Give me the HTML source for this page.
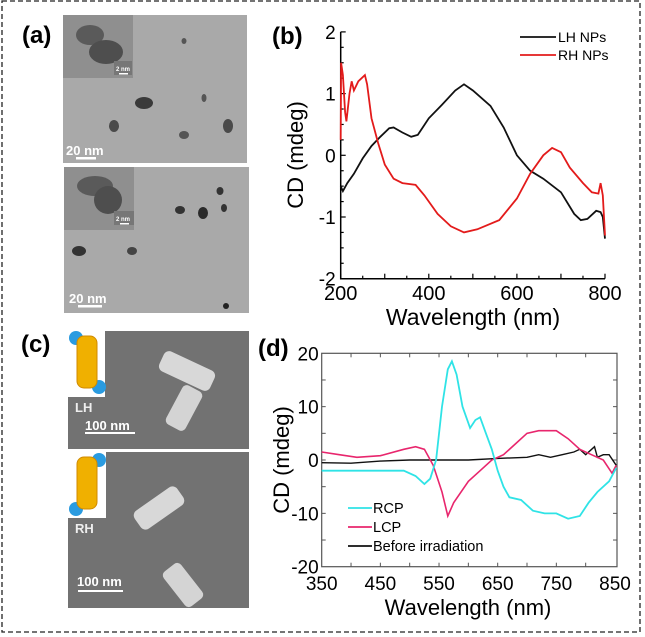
<!DOCTYPE html>
<html><head><meta charset="utf-8">
<style>
html,body{margin:0;padding:0;background:#fff;}
body{width:645px;height:637px;position:relative;overflow:hidden;font-family:"Liberation Sans",Arial,sans-serif;}
svg{position:absolute;left:0;top:0;}
</style></head>
<body>
<svg id="fig" width="645" height="637" viewBox="0 0 645 637">
  <rect x="2" y="1" width="638" height="631" fill="none" stroke="#222" stroke-width="1.3" stroke-dasharray="5,3"/>

  <!-- Panel a -->
  <text x="22" y="43" font-size="24" font-weight="bold">(a)</text>
  <g>
    <rect x="63" y="15" width="184" height="148" fill="#a9a9a9"/>
    <rect x="63" y="15" width="70" height="63" fill="#8f8f8f"/>
    <ellipse cx="90" cy="35" rx="14" ry="10" fill="#5a5a5a"/>
    <ellipse cx="106" cy="52" rx="17" ry="12" fill="#4e4e4e"/>
    <rect x="114" y="61" width="18" height="14" fill="#777"/>
    <text x="116" y="71" font-size="6" fill="#fff" font-weight="bold">2 nm</text>
    <rect x="119" y="73" width="9" height="1.5" fill="#fff"/>
    <ellipse cx="144" cy="103" rx="9" ry="6" fill="#3a3a3a"/>
    <ellipse cx="114" cy="126" rx="5" ry="6" fill="#4a4a4a"/>
    <ellipse cx="184" cy="135" rx="5" ry="4" fill="#555"/>
    <ellipse cx="204" cy="98" rx="2.5" ry="4" fill="#555"/>
    <ellipse cx="228" cy="126" rx="5" ry="7" fill="#4a4a4a"/>
    <ellipse cx="184" cy="41" rx="2.5" ry="3" fill="#555"/>
    <text x="66" y="155" font-size="13" fill="#fff" font-weight="bold">20 nm</text>
    <rect x="76" y="157" width="20" height="2.5" fill="#fff"/>
  </g>
  <g>
    <rect x="64" y="167" width="185" height="146" fill="#a9a9a9"/>
    <rect x="64" y="167" width="70" height="63" fill="#8f8f8f"/>
    <ellipse cx="95" cy="186" rx="18" ry="10" fill="#5a5a5a"/>
    <ellipse cx="108" cy="200" rx="14" ry="14" fill="#4e4e4e"/>
    <rect x="114" y="211" width="20" height="14" fill="#777"/>
    <text x="116" y="221" font-size="6" fill="#fff" font-weight="bold">2 nm</text>
    <rect x="120" y="223" width="9" height="1.5" fill="#fff"/>
    <ellipse cx="79" cy="251" rx="7" ry="5" fill="#333"/>
    <ellipse cx="132" cy="251" rx="5" ry="4" fill="#444"/>
    <ellipse cx="180" cy="210" rx="5" ry="4" fill="#333"/>
    <ellipse cx="203" cy="213" rx="5" ry="6" fill="#2a2a2a"/>
    <ellipse cx="220" cy="191" rx="3.5" ry="4" fill="#333"/>
    <ellipse cx="224" cy="208" rx="3" ry="4" fill="#333"/>
    <ellipse cx="226" cy="306" rx="3" ry="3" fill="#222"/>
    <text x="69" y="303" font-size="13" fill="#fff" font-weight="bold">20 nm</text>
    <rect x="78" y="305" width="24" height="2.5" fill="#fff"/>
  </g>

  <!-- Panel c -->
  <text x="21" y="352" font-size="24" font-weight="bold">(c)</text>
  <g>
    <rect x="68" y="331" width="181" height="118" fill="#727272"/>
    <rect x="68" y="331" width="37" height="66" fill="#fff"/>
    <circle cx="76" cy="338" r="7" fill="#2a9be0"/>
    <circle cx="99" cy="387" r="7" fill="#2a9be0"/>
    <rect x="77" y="336" width="20" height="52" rx="7" fill="#f0b000" stroke="#d08a00"/>
    <text x="75" y="412" font-size="13" fill="#eee" font-weight="bold">LH</text>
    <text x="85" y="430" font-size="13" fill="#fff" font-weight="bold">100 nm</text>
    <rect x="85" y="432" width="50" height="2" fill="#fff"/>
    <g transform="translate(187,371) rotate(25)"><rect x="-28" y="-11" width="56" height="22" rx="6" fill="#d8d8d8"/></g>
    <g transform="translate(184,408) rotate(-62)"><rect x="-22" y="-11" width="44" height="22" rx="5" fill="#d4d4d4"/></g>
  </g>
  <g>
    <rect x="68" y="452" width="181" height="156" fill="#727272"/>
    <rect x="68" y="452" width="38" height="66" fill="#fff"/>
    <circle cx="99" cy="460" r="7" fill="#2a9be0"/>
    <circle cx="76" cy="509" r="7" fill="#2a9be0"/>
    <rect x="77" y="457" width="20" height="52" rx="7" fill="#f0b000" stroke="#d08a00"/>
    <text x="75" y="533" font-size="13" fill="#eee" font-weight="bold">RH</text>
    <text x="77" y="586" font-size="13" fill="#fff" font-weight="bold">100 nm</text>
    <rect x="78" y="590" width="45" height="2" fill="#fff"/>
    <g transform="translate(159,508) rotate(-35)"><rect x="-26" y="-11" width="52" height="22" rx="6" fill="#d8d8d8"/></g>
    <g transform="translate(183,585) rotate(52)"><rect x="-22" y="-11" width="44" height="22" rx="5" fill="#d4d4d4"/></g>
  </g>

  <!-- Panel b -->
  <text x="272" y="44" font-size="24" font-weight="bold">(b)</text>
  <g id="chartB"></g>

  <!-- Panel d -->
  <text x="258" y="356" font-size="24" font-weight="bold">(d)</text>
  <g id="chartD"></g>
</svg>
<script>
// ---- Panel b data ----
const bLhX = [200,205,215,230,250,270,290,310,320,340,360,375,400,430,460,480,500,540,570,600,630,660,700,730,745,760,780,790,795,800];
const bLhY = [-0.5,-0.58,-0.45,-0.3,-0.05,0.15,0.3,0.44,0.45,0.37,0.3,0.33,0.6,0.82,1.05,1.15,1.05,0.8,0.45,0.0,-0.25,-0.38,-0.6,-0.95,-1.05,-1.03,-0.9,-0.92,-1.0,-1.35];
const bRhX = [200,201,205,210,213,220,225,230,240,255,260,270,285,300,320,340,370,390,420,450,480,510,560,600,630,660,680,700,720,750,770,785,790,795,800];
const bRhY = [0.25,1.5,1.3,0.7,0.55,1.0,1.2,1.05,1.2,1.3,1.15,0.6,0.2,-0.15,-0.38,-0.45,-0.48,-0.65,-0.95,-1.15,-1.25,-1.2,-1.05,-0.7,-0.3,0.0,0.12,0.05,-0.2,-0.45,-0.6,-0.62,-0.45,-0.65,-1.3];
const bXTicks = [200,400,600,800];
const bYTicks = [-2,-1,0,1,2];
// ---- Panel d data ----
const dRcpX = [350,400,450,490,510,525,535,545,555,565,572,580,590,603,612,620,630,640,650,660,670,690,710,730,750,770,790,805,820,840,852];
const dRcpY = [-2,-2,-2,-2,-3,-4.5,-3.5,0,10,17,18.5,16,10,6,7.5,8,5,2,-2,-5,-7,-7.5,-9.5,-10,-10,-11,-10.5,-8,-6,-4,-1.5];
const dLcpX = [350,380,410,450,490,510,525,540,555,565,575,600,620,640,660,680,700,720,750,770,790,810,830,845,852];
const dLcpY = [1.5,1,0.5,0.8,2,2.5,2,-1,-6,-10.5,-8,-4,-2,0,1,3,5,5.5,5.5,4,2,1,0,-2.5,-1];
const dBefX = [350,400,450,500,550,600,650,700,720,740,760,780,790,800,815,820,830,840,852];
const dBefY = [-0.5,-0.6,-0.2,0,0,0,0.3,0.5,1,0.5,1,1.5,2,1,2.5,0.5,1,1,-1];
const dXTicks = [350,450,550,650,750,850];
const dYTicks = [-20,-10,0,10,20];

const NS='http://www.w3.org/2000/svg';
function mk(parent,tag,attrs,text){const e=document.createElementNS(NS,tag);for(const k in attrs)e.setAttribute(k,attrs[k]);if(text!==undefined)e.textContent=text;parent.appendChild(e);return e;}
function pathOf(xs,ys,sx,sy){return xs.map((x,i)=>(i?'L':'M')+sx(x).toFixed(1)+','+sy(ys[i]).toFixed(1)).join('');}

// ---- Chart b ----
(function(){
  const g=document.getElementById('chartB');
  const sx=v=>340.7+(v-200)*264.3/600;
  const sy=v=>155.3-v*61.7;
  const ax=mk(g,'path',{d:`M${sx(200)},${sy(2)}L${sx(200)},${sy(-2)}L${sx(800)},${sy(-2)}`,fill:'none',stroke:'#000','stroke-width':1.5});
  
  
  for(let v=-2;v<=2.001;v+=0.25){const major=Math.abs(v-Math.round(v))<1e-6;mk(g,'line',{x1:sx(200),x2:sx(200)+(major?5:3),y1:sy(v),y2:sy(v),stroke:'#000','stroke-width':1.2});}
  for(let v=200;v<=800;v+=50){const major=v%100===0;mk(g,'line',{x1:sx(v),x2:sx(v),y1:sy(-2),y2:sy(-2)-(major?5:3),stroke:'#000','stroke-width':1.2});}
  bYTicks.forEach(v=>{const t=mk(g,'text',{x:sx(200)-5,y:sy(v)+7,'font-size':19,'text-anchor':'end'},String(v));
    
    });
  bXTicks.forEach(v=>{const t=mk(g,'text',{x:sx(v),y:300,'font-size':20,'text-anchor':'middle'},String(v));
    
    });
  const yl=mk(g,'text',{x:0,y:0,'font-size':22,'text-anchor':'middle',transform:'translate(303,155) rotate(-90)'},'CD (mdeg)');
  
  
  const xl=mk(g,'text',{x:473,y:325,'font-size':23,'text-anchor':'middle'},'Wavelength (nm)');
  
  
  const l1=mk(g,'path',{d:pathOf(bLhX,bLhY,sx,sy),fill:'none',stroke:'#111','stroke-width':1.8});
  
  
  const l2=mk(g,'path',{d:pathOf(bRhX,bRhY,sx,sy),fill:'none',stroke:'#e31b1b','stroke-width':1.8});
  
  
  [['LH NPs','#111',37],['RH NPs','#e31b1b',55]].forEach(([n,c,y])=>{
    const e=mk(g,'g',{});
    
    
    mk(e,'line',{x1:520,x2:556,y1:y,y2:y,stroke:c,'stroke-width':1.8});
    mk(e,'text',{x:558,y:y+5,'font-size':14},n);
  });
})();

// ---- Chart d ----
(function(){
  const g=document.getElementById('chartD');
  const sx=v=>321.7+(v-350)*293.3/500;
  const sy=v=>460-v*5.335;
  const L=sx(350),R=617,T=sy(20),B=sy(-20);
  const box=mk(g,'rect',{x:L,y:T,width:R-L,height:B-T,fill:'none',stroke:'#555','stroke-width':1.2});
  
  
  for(let v=-15;v<=15;v+=5){mk(g,'line',{x1:L,x2:L+4,y1:sy(v),y2:sy(v),stroke:'#555'});mk(g,'line',{x1:R,x2:R-4,y1:sy(v),y2:sy(v),stroke:'#555'});}
  for(let v=400;v<=800;v+=50){mk(g,'line',{x1:sx(v),x2:sx(v),y1:B,y2:B-4,stroke:'#555'});mk(g,'line',{x1:sx(v),x2:sx(v),y1:T,y2:T+4,stroke:'#555'});}
  dYTicks.forEach(v=>{const t=mk(g,'text',{x:L-3,y:sy(v)+7,'font-size':19,'text-anchor':'end'},String(v));
    
    });
  dXTicks.forEach(v=>{const t=mk(g,'text',{x:sx(v),y:590,'font-size':19,'text-anchor':'middle'},String(v));
    
    });
  const yl=mk(g,'text',{x:0,y:0,'font-size':22,'text-anchor':'middle',transform:'translate(289,460) rotate(-90)'},'CD (mdeg)');
  
  
  const xl=mk(g,'text',{x:468,y:615,'font-size':22,'text-anchor':'middle'},'Wavelength (nm)');
  
  
  const s3=mk(g,'path',{d:pathOf(dBefX,dBefY,sx,sy),fill:'none',stroke:'#111','stroke-width':1.4});
  
  
  const s2=mk(g,'path',{d:pathOf(dLcpX,dLcpY,sx,sy),fill:'none',stroke:'#e8266d','stroke-width':1.6});
  
  
  const s1=mk(g,'path',{d:pathOf(dRcpX,dRcpY,sx,sy),fill:'none',stroke:'#2fe3e6','stroke-width':1.8});
  
  
  [['RCP','#2fe3e6',508],['LCP','#e8266d',527],['Before irradiation','#111',546]].forEach(([n,c,y])=>{
    const e=mk(g,'g',{});
    
    
    mk(e,'line',{x1:348,x2:372,y1:y,y2:y,stroke:c,'stroke-width':1.8});
    mk(e,'text',{x:373,y:y+5,'font-size':14.5},n);
  });
})();
</script>
</body></html>
